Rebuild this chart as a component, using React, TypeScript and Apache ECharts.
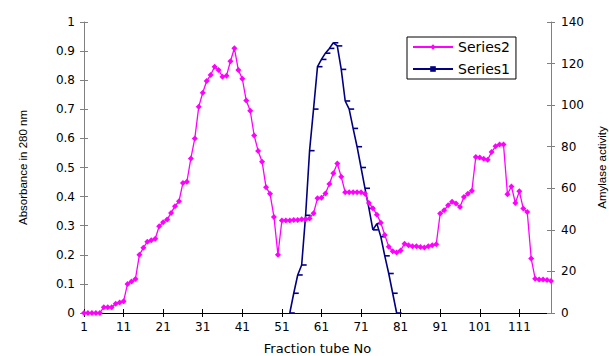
import React, { useEffect, useRef } from "react";
import * as echarts from "echarts";

// Fraction tube numbers (category axis)
const tubes: string[] = [
  "1","2","3","4","5","6","7","8","9","10","11","12","13","14","15","16","17","18","19","20",
  "21","22","23","24","25","26","27","28","29","30","31","32","33","34","35","36","37","38","39","40",
  "41","42","43","44","45","46","47","48","49","50","51","52","53","54","55","56","57","58","59","60",
  "61","62","63","64","65","66","67","68","69","70","71","72","73","74","75","76","77","78","79","80",
  "81","82","83","84","85","86","87","88","89","90","91","92","93","94","95","96","97","98","99","100",
  "101","102","103","104","105","106","107","108","109","110","111","112","113","114","115","116","117","118","119",
];

// Series2: absorbance at 280 nm (left axis), tubes 1..119
const absorbance: number[] = [
  0, 0, 0, 0, 0, 0.02, 0.02, 0.02, 0.032, 0.036,
  0.04, 0.1, 0.108, 0.117, 0.2, 0.224, 0.245, 0.25, 0.255, 0.298,
  0.312, 0.321, 0.344, 0.367, 0.384, 0.447, 0.451, 0.531, 0.6, 0.709,
  0.757, 0.797, 0.818, 0.846, 0.835, 0.812, 0.815, 0.865, 0.91, 0.835,
  0.805, 0.73, 0.695, 0.61, 0.557, 0.52, 0.432, 0.41, 0.33, 0.2,
  0.318, 0.318, 0.318, 0.32, 0.32, 0.322, 0.322, 0.325, 0.343, 0.394,
  0.396, 0.411, 0.443, 0.48, 0.514, 0.468, 0.415, 0.415, 0.415, 0.415,
  0.415, 0.41, 0.378, 0.36, 0.338, 0.31, 0.268, 0.228, 0.212, 0.208,
  0.215, 0.238, 0.233, 0.229, 0.229, 0.227, 0.225, 0.229, 0.233, 0.236,
  0.342, 0.353, 0.37, 0.382, 0.376, 0.364, 0.399, 0.41, 0.42, 0.536,
  0.534, 0.53, 0.527, 0.553, 0.573, 0.579, 0.579, 0.408, 0.435, 0.378,
  0.418, 0.359, 0.347, 0.187, 0.118, 0.115, 0.115, 0.113, 0.11,
];

// Series1: amylase activity (right axis), measured from tube 53 to tube 80
const amylaseFirstTube = 53;
const amylase: number[] = [
  0, 9.5, 18.3, 23.1, 47, 78.1, 98.1, 118.5, 122, 125,
  127.3, 130, 128.5, 117.2, 102, 98.1, 88.8, 80, 70, 60,
  50.3, 40, 43, 36.7, 27.5, 19, 9.5, 0,
];

const FONT = "'DejaVu Sans', 'Liberation Sans', Arial, sans-serif";
const TITLE_FONT = "'Liberation Sans', Arial, sans-serif";

export default function App() {
  const ref = useRef<HTMLDivElement>(null);

  useEffect(() => {
    if (!ref.current) return;
    const chart = echarts.init(ref.current, null, { renderer: "svg" });

    const amylaseFull: (number | null)[] = tubes.map((t) => {
      const idx = Number(t) - amylaseFirstTube;
      return idx >= 0 && idx < amylase.length ? amylase[idx] : null;
    });

    const labelStyle = { color: "#000", fontSize: 12, fontFamily: FONT };
    const nameStyle = { color: "#000", fontSize: 11.5, fontFamily: TITLE_FONT };

    const option: any = {
      animation: false,
      grid: { left: 84, right: 58, top: 22, bottom: 43, containLabel: false, outerBoundsMode: "none" },
      legend: {
        data: ["Series2", "Series1"],
        orient: "vertical",
        left: 407,
        top: 37,
        padding: [3, 6, 3, 5],
        itemWidth: 40,
        itemHeight: 7,
        itemGap: 8,
        borderColor: "#000",
        borderWidth: 1,
        backgroundColor: "#fff",
        selectedMode: false,
        textStyle: { color: "#000", fontSize: 14, fontFamily: FONT },
      },
      xAxis: [
        {
          type: "category",
          data: tubes,
          boundaryGap: false,
          position: "bottom",
          axisLine: { show: true, lineStyle: { color: "#000", width: 1 } },
          axisTick: { show: true, interval: 9, length: 4, lineStyle: { color: "#000" } },
          axisLabel: { interval: 9, margin: 8, ...labelStyle },
          splitLine: { show: false },
          name: "Fraction tube No",
          nameLocation: "middle",
          nameGap: 29,
          nameTextStyle: { ...nameStyle, fontSize: 13, fontFamily: FONT },
        },
        {
          type: "category",
          data: tubes,
          boundaryGap: false,
          position: "bottom",
          axisLine: { show: false },
          axisTick: { show: true, inside: true, interval: 9, length: 4, lineStyle: { color: "#000" } },
          axisLabel: { show: false },
          splitLine: { show: false },
        },
      ],
      yAxis: [
        {
          type: "value",
          min: 0,
          max: 1,
          interval: 0.1,
          position: "left",
          axisLine: { show: true, lineStyle: { color: "#808080" } },
          axisTick: { show: true, length: 4, lineStyle: { color: "#808080" } },
          axisLabel: { margin: 9, ...labelStyle },
          splitLine: { show: false },
          name: "Absorbance in 280 nm",
          nameLocation: "middle",
          nameRotate: 90,
          nameGap: 55,
          nameTextStyle: nameStyle,
        },
        {
          type: "value",
          min: 0,
          max: 140,
          interval: 20,
          position: "right",
          alignTicks: false,
          axisLine: { show: true, lineStyle: { color: "#808080" } },
          axisTick: { show: true, length: 4, lineStyle: { color: "#808080" } },
          axisLabel: { margin: 10, ...labelStyle },
          splitLine: { show: false },
          name: "Amylase activity",
          nameLocation: "middle",
          nameRotate: 90,
          nameGap: 45,
          nameTextStyle: nameStyle,
        },
        {
          type: "value",
          min: 0,
          max: 1,
          interval: 0.1,
          position: "left",
          axisLine: { show: false },
          axisTick: { show: true, inside: true, length: 4, lineStyle: { color: "#808080" } },
          axisLabel: { show: false },
          splitLine: { show: false },
        },
        {
          type: "value",
          min: 0,
          max: 140,
          interval: 20,
          position: "right",
          axisLine: { show: false },
          axisTick: { show: true, inside: true, length: 4, lineStyle: { color: "#808080" } },
          axisLabel: { show: false },
          splitLine: { show: false },
        },
      ],
      series: [
        {
          name: "Series1",
          type: "line",
          xAxisIndex: 0,
          yAxisIndex: 1,
          data: amylaseFull,
          connectNulls: false,
          symbol: "rect",
          symbolSize: [5, 1.6],
          symbolOffset: [2.5, 0],
          showAllSymbol: true,
          lineStyle: { color: "#000080", width: 1.6 },
          itemStyle: { color: "#000080" },
          z: 2,
        },
        {
          name: "Series2",
          type: "line",
          xAxisIndex: 0,
          yAxisIndex: 0,
          data: absorbance,
          symbol: "diamond",
          symbolSize: 6,
          showAllSymbol: true,
          lineStyle: { color: "#ff00ff", width: 1.3 },
          itemStyle: { color: "#ff00ff" },
          z: 3,
        },
      ],
    };

    chart.setOption(option);
    return () => chart.dispose();
  }, []);

  return (
    <div
      ref={ref}
      style={{ position: "fixed", left: 0, top: 0, width: 609, height: 356, background: "#fff" }}
    />
  );
}
